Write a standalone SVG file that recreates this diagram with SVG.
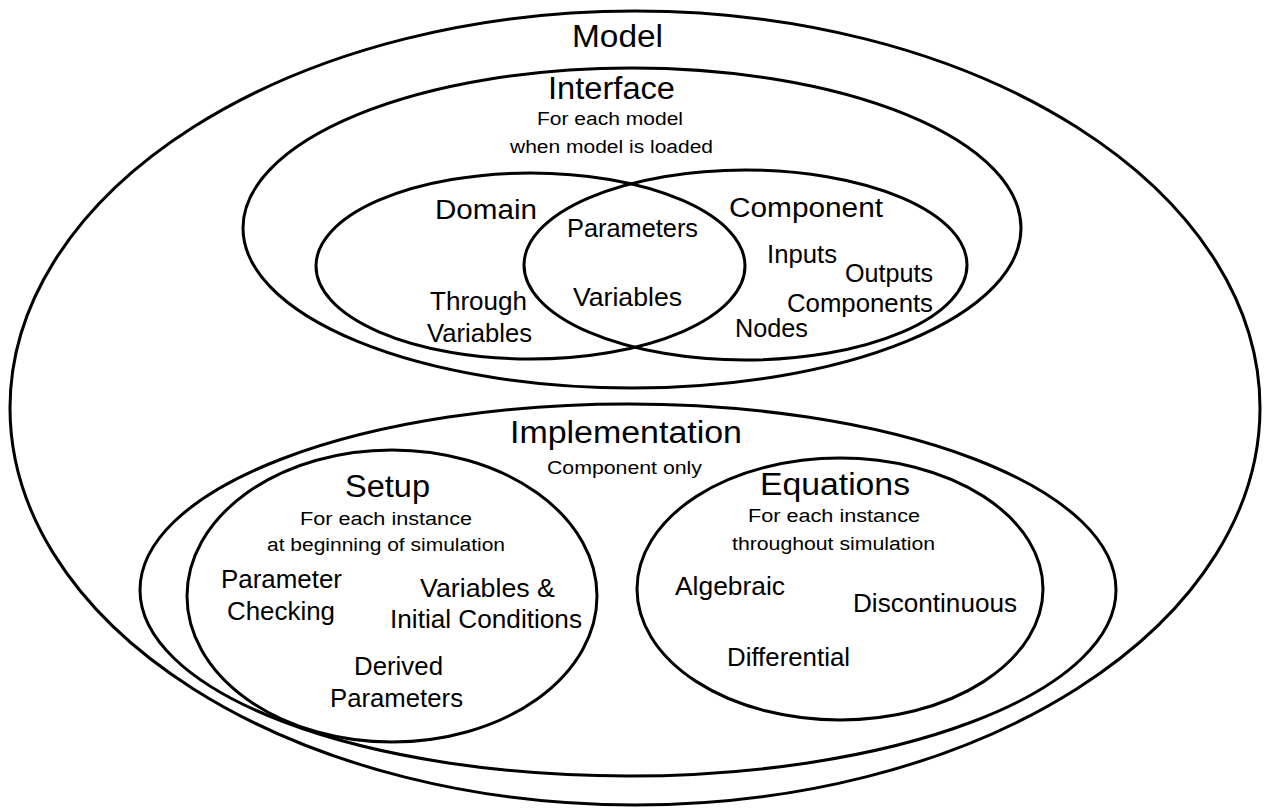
<svg xmlns="http://www.w3.org/2000/svg" width="1268" height="809" viewBox="0 0 1268 809">
<style>
.e{fill:none;stroke:#000;stroke-width:3}
text{font-family:"Liberation Sans",Arial,sans-serif;fill:#000;text-anchor:middle}
.t1{font-size:31px}
.t2{font-size:27px}
.t3{font-size:25px}
.s{font-size:18px}
</style>
<rect width="1268" height="809" fill="#fff"/>
<g id="model">
<ellipse class="e" cx="635" cy="408" rx="625" ry="397"/>
<text class="t1" x="617.5" y="47" textLength="91" lengthAdjust="spacingAndGlyphs">Model</text>
</g>
<g id="interface">
<ellipse class="e" cx="632" cy="228" rx="389" ry="160"/>
<text class="t1" x="611.5" y="99" textLength="127" lengthAdjust="spacingAndGlyphs">Interface</text>
<text class="s" x="610" y="125" textLength="146" lengthAdjust="spacingAndGlyphs">For each model</text>
<text class="s" x="611.5" y="153" textLength="203" lengthAdjust="spacingAndGlyphs">when model is loaded</text>
</g>
<g id="domain">
<ellipse class="e" cx="530.5" cy="266" rx="214.5" ry="93"/>
<text class="t2" x="486" y="219" textLength="102" lengthAdjust="spacingAndGlyphs">Domain</text>
<text class="t3" x="478.5" y="310" textLength="97" lengthAdjust="spacingAndGlyphs">Through</text>
<text class="t3" x="479.5" y="342" textLength="105" lengthAdjust="spacingAndGlyphs">Variables</text>
</g>
<g id="component">
<ellipse class="e" cx="745.5" cy="265" rx="221.5" ry="95"/>
<text class="t2" x="806" y="217" textLength="154" lengthAdjust="spacingAndGlyphs">Component</text>
<text class="t3" x="802" y="263" textLength="70" lengthAdjust="spacingAndGlyphs">Inputs</text>
<text class="t3" x="889" y="282" textLength="88" lengthAdjust="spacingAndGlyphs">Outputs</text>
<text class="t3" x="860" y="312" textLength="146" lengthAdjust="spacingAndGlyphs">Components</text>
<text class="t3" x="771.5" y="337" textLength="73" lengthAdjust="spacingAndGlyphs">Nodes</text>
</g>
<g id="shared">
<text class="t3" x="632.5" y="237" textLength="131" lengthAdjust="spacingAndGlyphs">Parameters</text>
<text class="t3" x="627.5" y="306" textLength="109" lengthAdjust="spacingAndGlyphs">Variables</text>
</g>
<g id="implementation">
<ellipse class="e" cx="628" cy="590" rx="488" ry="186"/>
<text class="t1" x="626" y="443" textLength="232" lengthAdjust="spacingAndGlyphs">Implementation</text>
<text class="s" x="624.5" y="474" textLength="155" lengthAdjust="spacingAndGlyphs">Component only</text>
</g>
<g id="setup">
<ellipse class="e" cx="392" cy="596" rx="205" ry="146"/>
<text class="t1" x="387.5" y="497" textLength="85" lengthAdjust="spacingAndGlyphs">Setup</text>
<text class="s" x="386" y="525" textLength="172" lengthAdjust="spacingAndGlyphs">For each instance</text>
<text class="s" x="386" y="551" textLength="238" lengthAdjust="spacingAndGlyphs">at beginning of simulation</text>
<text class="t3" x="281.5" y="588" textLength="121" lengthAdjust="spacingAndGlyphs">Parameter</text>
<text class="t3" x="281" y="620" textLength="108" lengthAdjust="spacingAndGlyphs">Checking</text>
<text class="t3" x="487.5" y="597" textLength="135" lengthAdjust="spacingAndGlyphs">Variables &amp;</text>
<text class="t3" x="486" y="628" textLength="192" lengthAdjust="spacingAndGlyphs">Initial Conditions</text>
<text class="t3" x="398.5" y="675" textLength="89" lengthAdjust="spacingAndGlyphs">Derived</text>
<text class="t3" x="396.5" y="707" textLength="133" lengthAdjust="spacingAndGlyphs">Parameters</text>
</g>
<g id="equations">
<ellipse class="e" cx="840" cy="589" rx="203" ry="131"/>
<text class="t1" x="835" y="495" textLength="150" lengthAdjust="spacingAndGlyphs">Equations</text>
<text class="s" x="834" y="522" textLength="172" lengthAdjust="spacingAndGlyphs">For each instance</text>
<text class="s" x="833.5" y="550" textLength="203" lengthAdjust="spacingAndGlyphs">throughout simulation</text>
<text class="t3" x="730" y="595" textLength="110" lengthAdjust="spacingAndGlyphs">Algebraic</text>
<text class="t3" x="935" y="612" textLength="164" lengthAdjust="spacingAndGlyphs">Discontinuous</text>
<text class="t3" x="788.5" y="666" textLength="123" lengthAdjust="spacingAndGlyphs">Differential</text>
</g>
<g id="connectors"></g>
</svg>
